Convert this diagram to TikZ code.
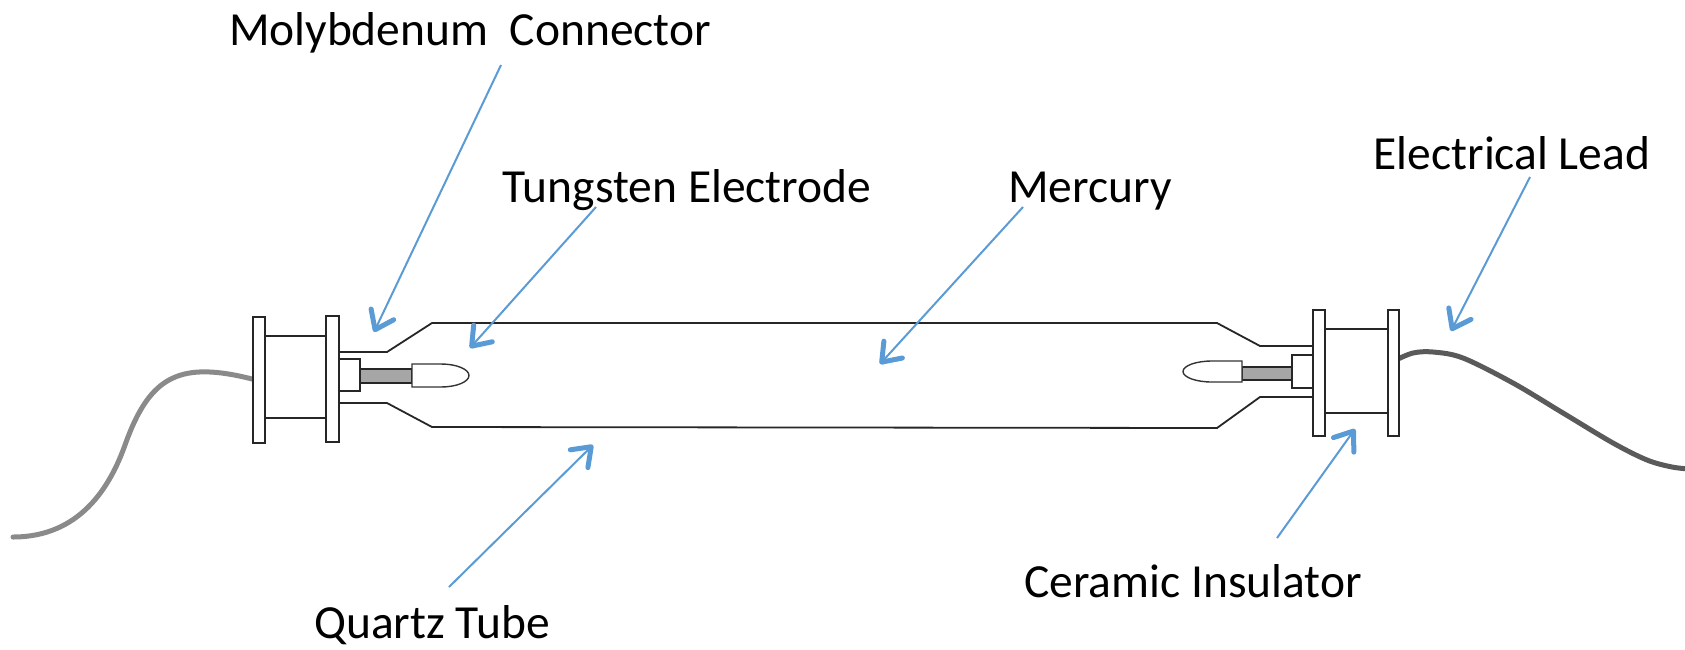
\documentclass[tikz,border=0pt]{standalone}
\usepackage{fontspec}
\setmainfont{Carlito}
\usetikzlibrary{arrows.meta}
\definecolor{callout}{HTML}{5B9BD5}
\definecolor{leadL}{HTML}{8A8A8A}
\definecolor{leadR}{HTML}{5A5A5A}
\definecolor{rodgray}{HTML}{A6A6A6}
\begin{document}
\begin{tikzpicture}[x=1pt,y=-1pt,
  outline/.style={draw=black!85, line width=1.8pt, line join=miter},
  part/.style={outline, fill=white},
  thin part/.style={draw=black!80, line width=1.4pt, fill=white},
  label/.style={font=\fontsize{47.5}{56}\selectfont, anchor=base, inner sep=0pt},
  callout/.style={draw=callout, line width=2pt,
    -{Straight Barb[length=17pt,width=25pt,line width=5pt,round]}},
  cable/.style={line width=5pt, line cap=round},
]
\useasboundingbox (0,0) rectangle (1685,649);

% electrical leads
\draw[cable, draw=leadL] (256,380) .. controls (180,360) and (150,375) .. (125,445)
  .. controls (110,487) and (80,537) .. (13,537);
\draw[cable, draw=leadR] plot[smooth, tension=0.55] coordinates {
  (1396,360) (1413,353) (1433,352) (1463,358) (1513,383) (1563,413)
  (1613,443) (1647,460) (1672,467) (1690,469)};

% left end cap: ceramic insulator between two flanges
\draw[part] (253,317) rectangle (265,443);
\draw[outline] (265,336) -- (326,336) (265,418) -- (326,418);
\draw[part] (326,316) rectangle (339,442);

% right end cap
\draw[part] (1313,310) rectangle (1325,436);
\draw[outline] (1325,329) -- (1388,329) (1325,413) -- (1388,413);
\draw[part] (1388,310) rectangle (1399,436);

% quartz tube with necked ends
\draw[outline] (339,352) -- (387,352) -- (432,323) -- (1217,323) -- (1260,346) -- (1313,346);
\draw[outline] (339,403) -- (387,403) -- (432,427) -- (1217,428) -- (1260,397) -- (1313,397);

% left molybdenum block, tungsten rod and electrode tip
\draw[part] (339,359) rectangle (360,391);
\draw[outline, fill=rodgray] (360,369) rectangle (412,383);
\draw[thin part] (412,364) -- (441,364)
  arc[start angle=90, end angle=-90, x radius=28pt, y radius=11.5pt] -- (412,387) -- cycle;

% right molybdenum block, tungsten rod and electrode tip
\draw[part] (1292,355) rectangle (1313,388);
\draw[outline, fill=rodgray] (1242,367) rectangle (1292,380);
\draw[thin part] (1242,361) -- (1212,361)
  arc[start angle=90, end angle=270, x radius=29pt, y radius=10.5pt] -- (1242,382) -- cycle;

% labels
\node[label] (moly)    at (470,45)   {Molybdenum~~Connector};
\node[label] (tung)    at (687,202)  {Tungsten Electrode};
\node[label] (merc)    at (1090,202) {Mercury};
\node[label] (lead)    at (1512,169) {Electrical Lead};
\node[label] (ceramic) at (1193,597) {Ceramic Insulator};
\node[label] (quartz)  at (432,638)  {Quartz Tube};

% callout arrows
\coordinate (moly-s) at (501,65);     \coordinate (moly-t) at (374,332);
\coordinate (tung-s) at (596,207);    \coordinate (tung-t) at (470,348);
\coordinate (merc-s) at (1023,207);   \coordinate (merc-t) at (880,364);
\coordinate (lead-s) at (1530,177);   \coordinate (lead-t) at (1451,331);
\coordinate (quartz-s) at (449,587);  \coordinate (quartz-t) at (593,445);
\coordinate (ceramic-s) at (1277,538);\coordinate (ceramic-t) at (1355,429);

\draw[callout] (moly-s) -- (moly-t);
\draw[callout] (tung-s) -- (tung-t);
\draw[callout] (merc-s) -- (merc-t);
\draw[callout] (lead-s) -- (lead-t);
\draw[callout] (quartz-s) -- (quartz-t);
\draw[callout] (ceramic-s) -- (ceramic-t);
\end{tikzpicture}
\end{document}
